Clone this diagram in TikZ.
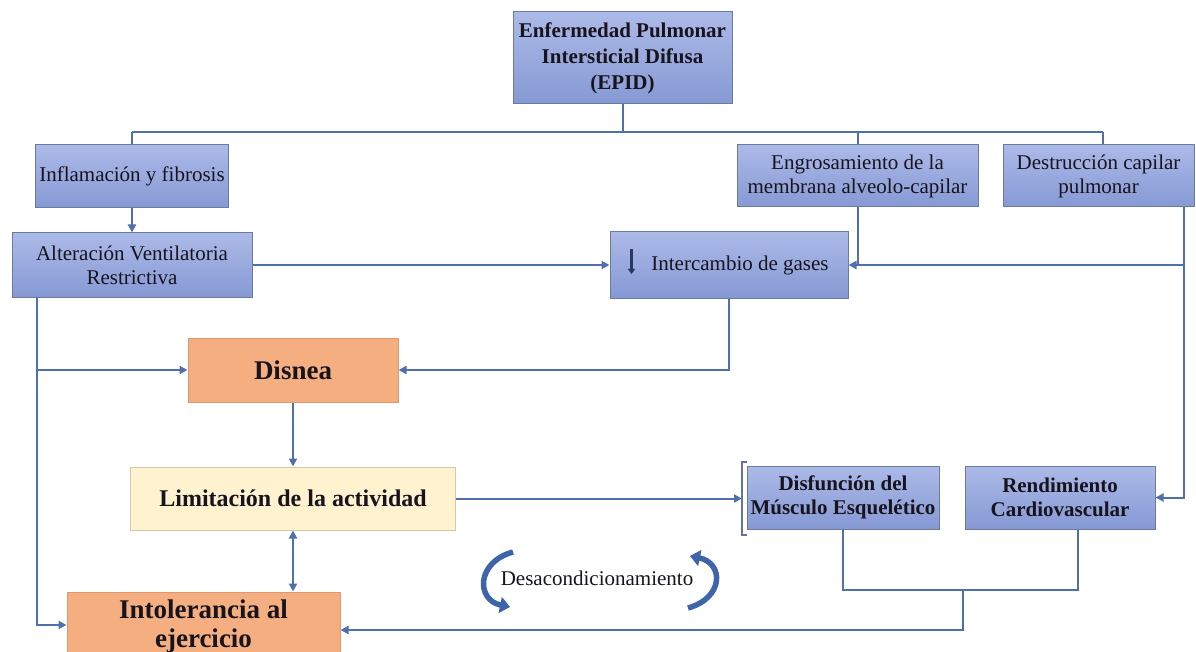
\documentclass[tikz,border=0pt]{standalone}
\usepackage{fontspec}
\setmainfont{Liberation Serif}
\usetikzlibrary{arrows.meta,calc}
\definecolor{lineblue}{RGB}{80,112,172}
\definecolor{curveblue}{RGB}{62,100,170}
\definecolor{bluetop}{RGB}{172,186,232}
\definecolor{bluebot}{RGB}{134,153,212}
\definecolor{bluedraw}{RGB}{108,122,162}
\definecolor{orangefill}{RGB}{244,174,128}
\definecolor{orangedraw}{RGB}{222,152,112}
\definecolor{yellowfill}{RGB}{255,242,206}
\definecolor{yellowdraw}{RGB}{214,200,162}
\definecolor{txt}{RGB}{24,20,30}
\definecolor{navy}{RGB}{40,55,100}
\definecolor{bracketc}{RGB}{100,115,150}
\tikzset{
  base/.style={draw, line width=1pt, inner sep=2pt, align=center, text=txt},
  bluebox/.style={base, draw=bluedraw, top color=bluetop, bottom color=bluebot},
  orangebox/.style={base, draw=orangedraw, fill=orangefill},
  yellowbox/.style={base, draw=yellowdraw, fill=yellowfill},
  reg/.style={font=\fontsize{21}{24}\selectfont},
  bld/.style={font=\fontsize{21}{24}\selectfont\bfseries},
  big/.style={font=\fontsize{27}{32}\selectfont\bfseries},
  conn/.style={draw=lineblue, line width=2pt},
  arr/.style={conn, -{Triangle[length=8pt,width=8pt]}},
  darr/.style={conn, {Triangle[length=8pt,width=8pt]}-{Triangle[length=8pt,width=8pt]}},
  curv/.style={draw=curveblue, line width=5.5pt, -{Triangle[length=10pt,width=16pt]}},
  bracketline/.style={draw=bracketc, line width=1.5pt},
}
\begin{document}
\begin{tikzpicture}[x=1pt,y=-1pt]
\useasboundingbox (0,0) rectangle (1196,652);
\fill[white] (0,0) rectangle (1196,652);
\clip (0,0) rectangle (1196,652);

% nodes
\node[bluebox,font=\fontsize{21}{26}\selectfont\bfseries,minimum width=219pt,minimum height=92pt] (epid) at (622.5,58) {Enfermedad Pulmonar\\Intersticial Difusa\\(EPID)};
\node[bluebox,reg,minimum width=193pt,minimum height=63pt] (infl) at (132,176) {Inflamación y fibrosis};
\node[bluebox,reg,minimum width=241pt,minimum height=62pt] (engr) at (857.5,176) {Engrosamiento de la\\membrana alveolo-capilar};
\node[bluebox,reg,minimum width=191pt,minimum height=62pt] (destr) at (1098.5,176) {Destrucción capilar\\pulmonar};
\node[bluebox,reg,minimum width=240pt,minimum height=64pt] (alt) at (132,265) {Alteración Ventilatoria\\Restrictiva};
\node[bluebox,reg,minimum width=238pt,minimum height=66pt] (inter) at (729,265) {\hspace*{22pt}Intercambio de gases};
\node[orangebox,big,minimum width=210pt,minimum height=64pt] (disnea) at (293,370) {Disnea};
\node[yellowbox,font=\fontsize{24}{28}\selectfont\bfseries,minimum width=325pt,minimum height=63pt] (lim) at (293,498.5) {Limitación de la actividad};
\node[bluebox,bld,minimum width=192pt,minimum height=63pt] (disf) at (843,497.5) {Disfunción del\\Músculo Esquelético};
\node[bluebox,bld,minimum width=190pt,minimum height=63pt] (rend) at (1060,497.5) {Rendimiento\\Cardiovascular};
\node[orangebox,font=\fontsize{27}{29}\selectfont\bfseries,minimum width=273pt,minimum height=70pt] (intol) at (203.5,627) {Intolerancia al\\ejercicio};
\node[reg,text=txt,anchor=base,inner sep=0pt] (desac) at (597,585) {Desacondicionamiento};

% down arrow symbol inside Intercambio
\draw[navy, line width=3pt, -{Triangle[length=5pt,width=7pt]}] ($(inter.west)+(22,-16)$) -- ($(inter.west)+(22,9)$);

% coordinates
\coordinate (hL) at (132,132);
\coordinate (hR) at (1103,132);
\coordinate (dS) at ([xshift=-11pt]destr.south east);
\coordinate (aL) at (37,297);
\coordinate (jB) at (963,590);
\coordinate (brT) at (742,462);
\coordinate (brB) at (742,535);

% top tree
\draw[conn] (epid.south) -- (epid.south |- hL);
\draw[conn] (hL) -- (hR);
\draw[conn] (hL) -- (infl.north);
\draw[conn] (engr.north |- hL) -- (engr.north);
\draw[conn] (hR) -- (hR |- destr.north);

% arrows
\draw[arr] (infl.south) -- (alt.north);
\draw[arr] (alt.east) -- (inter.west);
\draw[arr] (engr.south) |- (inter.east);
\draw[conn] (dS |- inter.east) -- (engr.south |- inter.east);
\draw[arr] (dS) |- (rend.east);
\draw[arr] (inter.south) |- (disnea.east);
\draw[arr] (aL) |- ([yshift=2pt]intol.west);
\draw[arr] (aL |- disnea.west) -- (disnea.west);
\draw[arr] (disnea.south) -- (lim.north);
\draw[darr] (lim.south) -- (lim.south |- intol.north);
\draw[arr] (lim.east) -- (lim.east -| brT);
\draw[bracketline] ([xshift=5pt]brT) -- (brT) -- (brB) -- ([xshift=5pt]brB);
\draw[conn] (disf.south) |- (jB) -| ([xshift=18pt]rend.south);
\draw[arr] (jB) |- ([yshift=-3pt]intol.east);

% curved arrows
\draw[curv] (513,552) .. controls (476,562) and (476,600) .. (510,607);
\draw[curv] (688,608) .. controls (724,598) and (724,563) .. (690,556);
\end{tikzpicture}
\end{document}
